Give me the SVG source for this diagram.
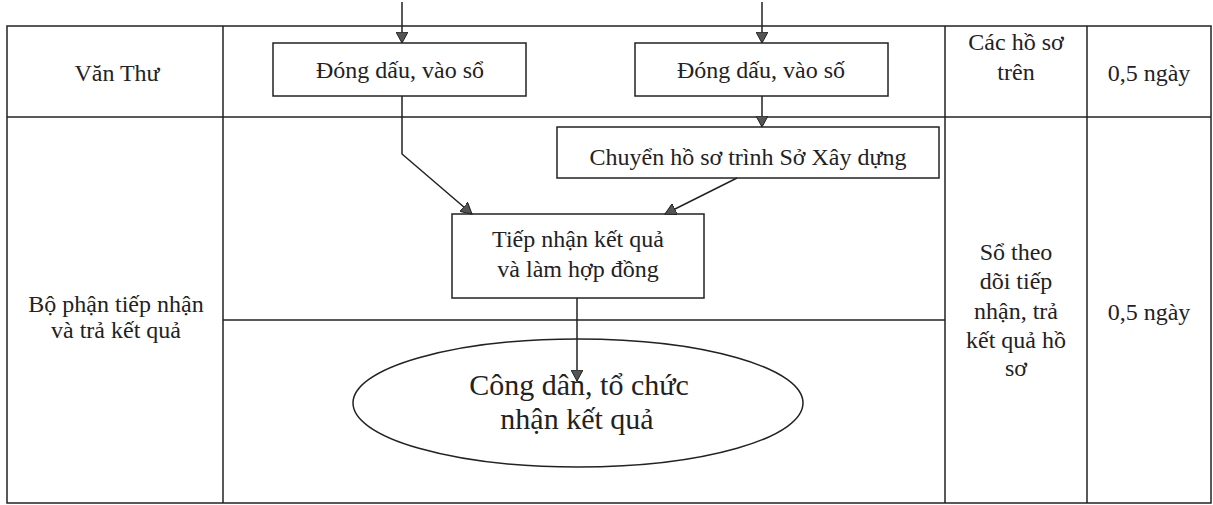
<svg xmlns="http://www.w3.org/2000/svg" width="1213" height="505" viewBox="0 0 1213 505">
<style>
.ln{stroke:#222;stroke-width:1.5;fill:none}
.box{stroke:#222;stroke-width:1.5;fill:#fff}
.t{font-family:"Liberation Serif","Times New Roman",serif;font-size:24px;fill:#222;text-anchor:middle}
.tb{font-size:30px}
.cn{stroke:#222;stroke-width:1.5;fill:none;marker-end:url(#ah)}
</style>
<defs>
<marker id="ah" markerUnits="userSpaceOnUse" markerWidth="12" markerHeight="12" refX="11" refY="6" orient="auto">
<path d="M0,0 L11,6 L0,12 z" fill="#555" stroke="#222" stroke-width="1"/>
</marker>
</defs>
<rect x="0" y="0" width="1213" height="505" fill="#fff"/>
<g id="table">
<rect class="ln" x="7" y="26" width="1204" height="477"/>
<line class="ln" x1="223" y1="26" x2="223" y2="503"/>
<line class="ln" x1="945" y1="26" x2="945" y2="503"/>
<line class="ln" x1="1087" y1="26" x2="1087" y2="503"/>
<line class="ln" x1="7" y1="117" x2="1211" y2="117"/>
<line class="ln" x1="223" y1="320" x2="945" y2="320"/>
</g>
<g id="lane-vanthu"><text class="t" x="117" y="81">Văn Thư</text></g>
<g id="lane-bophan">
<text class="t" x="116" y="312">Bộ phận tiếp nhận</text>
<text class="t" x="116" y="338">và trả kết quả</text>
</g>
<g id="doc1">
<text class="t" x="1016" y="50">Các hồ sơ</text>
<text class="t" x="1016" y="80">trên</text>
</g>
<g id="time1"><text class="t" x="1149" y="81">0,5 ngày</text></g>
<g id="doc2">
<text class="t" x="1016" y="260">Sổ theo</text>
<text class="t" x="1016" y="289">dõi tiếp</text>
<text class="t" x="1016" y="319">nhận, trả</text>
<text class="t" x="1016" y="348">kết quả hồ</text>
<text class="t" x="1016" y="376">sơ</text>
</g>
<g id="time2"><text class="t" x="1149" y="320">0,5 ngày</text></g>
<g id="box1">
<rect class="box" x="273" y="43" width="253" height="53"/>
<text class="t" x="400" y="78">Đóng dấu, vào sổ</text>
</g>
<g id="box2">
<rect class="box" x="635" y="43" width="253" height="53"/>
<text class="t" x="761" y="78">Đóng dấu, vào số</text>
</g>
<g id="box3">
<rect class="box" x="557" y="127" width="382" height="51"/>
<text class="t" x="748" y="165">Chuyển hồ sơ trình Sở Xây dựng</text>
</g>
<g id="box4">
<rect class="box" x="452" y="214" width="252" height="84"/>
<text class="t" x="578" y="247">Tiếp nhận kết quả</text>
<text class="t" x="578" y="277">và làm hợp đồng</text>
</g>
<g id="end">
<ellipse class="box" cx="578" cy="403" rx="225" ry="64"/>
<text class="t tb" x="579" y="395">Công dân, tổ chức</text>
<text class="t tb" x="577" y="429">nhận kết quả</text>
</g>
<g id="connectors">
<line class="cn" x1="402" y1="2" x2="402" y2="43"/>
<line class="cn" x1="762" y1="2" x2="762" y2="43"/>
<line class="cn" x1="762" y1="96" x2="762" y2="127"/>
<polyline class="cn" points="402,96 402,154 472,214"/>
<line class="cn" x1="737" y1="178" x2="665" y2="214"/>
<line class="cn" x1="577" y1="298" x2="577" y2="381"/>
</g>
</svg>
